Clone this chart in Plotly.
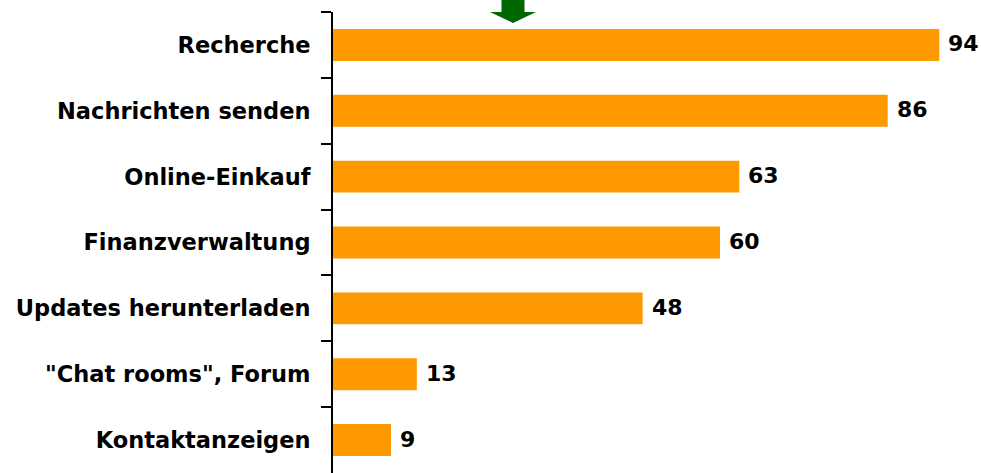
import plotly.graph_objects as go

categories = ["Recherche", "Nachrichten senden", "Online-Einkauf", "Finanzverwaltung",
              "Updates herunterladen", "\"Chat rooms\", Forum", "Kontaktanzeigen"]
values = [94, 86, 63, 60, 48, 13, 9]

W, H = 981, 473
ML, MR, MT, MB = 333, 3, 12, 0
pw = W - ML - MR
ph = H - MT - MB

fig = go.Figure()
fig.add_trace(go.Bar(
    x=values, y=categories, orientation="h",
    marker=dict(color="#FF9900", line=dict(width=0)),
    hoverinfo="skip",
))

for c, v in zip(categories, values):
    fig.add_annotation(x=v, y=c, text=f"<b>{v}</b>", showarrow=False,
                       xanchor="left", xshift=7, yshift=1,
                       font=dict(family="DejaVu Sans", size=22, color="black"))

# green arrow (decoration) in paper coordinates
def px_x(p):
    return (p - ML) / pw

def px_y(p):
    return (H - MB - p) / ph

cx = 513
path = (f"M {px_x(cx-11.5)},{px_y(-5)} L {px_x(cx+11.5)},{px_y(-5)} "
        f"L {px_x(cx+11.5)},{px_y(12)} L {px_x(cx+23)},{px_y(12)} "
        f"L {px_x(cx)},{px_y(23)} L {px_x(cx-23)},{px_y(12)} "
        f"L {px_x(cx-11.5)},{px_y(12)} Z")
fig.add_shape(type="path", path=path, xref="paper", yref="paper",
              fillcolor="#006600", line=dict(width=0), layer="above")

fig.update_layout(
    template="none",
    width=W, height=H,
    margin=dict(l=ML, r=MR, t=MT, b=MB, pad=0, autoexpand=False),
    plot_bgcolor="white", paper_bgcolor="white",
    bargap=0.515,
    showlegend=False,
    xaxis=dict(range=[0, 100], visible=False, showgrid=False, zeroline=False,
               automargin=False),
    yaxis=dict(
        categoryorder="array", categoryarray=categories, autorange="reversed",
        showline=True, linecolor="black", linewidth=2,
        ticks="outside", ticklen=10, tickwidth=2, tickcolor="black",
        tickson="boundaries", ticklabelstandoff=16, automargin=False,
        tickfont=dict(family="DejaVu Sans", size=22.5, color="black", weight="bold"),
        showgrid=False, zeroline=False,
    ),
)

fig.write_html("out.html", config={"displayModeBar": False},
               post_script="document.body.style.margin='0';document.body.style.overflow='hidden';")
